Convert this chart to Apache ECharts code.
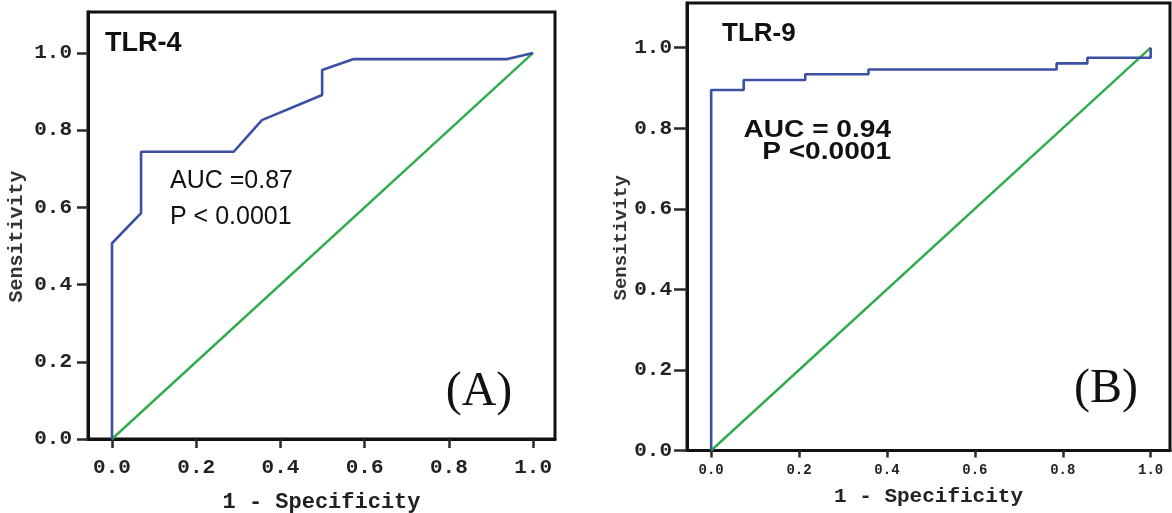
<!DOCTYPE html>
<html>
<head>
<meta charset="utf-8">
<script src="https://cdn.jsdelivr.net/npm/echarts@6/dist/echarts.min.js"></script>
<style>
html,body{margin:0;padding:0;background:#fff;}
#chart{width:1172px;height:513px;}
</style>
</head>
<body>
<div id="chart"></div>
<script>
// ---- data ----
const tickValues = [0, 0.2, 0.4, 0.6, 0.8, 1.0];
const tickLabels = ['0.0', '0.2', '0.4', '0.6', '0.8', '1.0'];

// TLR-4 ROC curve: 1 - specificity, sensitivity
const tlr4Fpr  = [0, 0, 0.069, 0.069, 0.289, 0.356, 0.499, 0.499, 0.574, 0.939, 1.0];
const tlr4Sens = [0, 0.507, 0.585, 0.744, 0.744, 0.826, 0.891, 0.956, 0.984, 0.984, 1.0];

// TLR-9 ROC curve
const tlr9Fpr  = [0, 0, 0.074, 0.074, 0.214, 0.214, 0.358, 0.358, 0.786, 0.786, 0.856, 0.856, 1.0, 1.0];
const tlr9Sens = [0, 0.895, 0.895, 0.920, 0.920, 0.934, 0.934, 0.946, 0.946, 0.961, 0.961, 0.975, 0.975, 1.0];

// reference (chance) line
const refX = [0, 1];
const refY = [0, 1];

const titles = ['TLR-4', 'TLR-9'];
const aucTexts = [['AUC =0.87', 'P < 0.0001'], ['AUC = 0.94', 'P <0.0001']];
const panelTags = ['(A)', '(B)'];
const xName = '1 - Specificity';
const yName = 'Sensitivity';

// ---- build ----
const zip = (a, b) => a.map((v, i) => [v, b[i]]);
const MONO = '"Liberation Mono", "DejaVu Sans Mono", monospace';
const SANS = '"Liberation Sans", Arial, sans-serif';
const SERIF = '"Liberation Serif", "Times New Roman", serif';
const BLUE = '#3b4fa3';
const GREEN = '#2fac4c';
const TICK = '#2a2a2a';
const labelFmt = v => { const i = tickValues.findIndex(t => Math.abs(t - v) < 1e-6); return i >= 0 ? tickLabels[i] : ''; };

const grids = [
  { left: 88, top: 12, width: 467, height: 427, show: true, borderColor: '#111', borderWidth: 3, backgroundColor: 'transparent', containLabel: false, outerBoundsMode: 'none' },
  { left: 687, top: 3, width: 483, height: 447.5, show: true, borderColor: '#111', borderWidth: 3, backgroundColor: 'transparent', containLabel: false, outerBoundsMode: 'none' }
];

function xAxisFor(idx, min, max, fs, tickLen, margin, nameFs, nameGap) {
  return {
    gridIndex: idx, type: 'value', min: min, max: max, position: 'bottom',
    axisLine: { show: true, onZero: false, lineStyle: { color: '#111', width: 3 } },
    splitLine: { show: false },
    axisTick: { show: true, customValues: tickValues, length: tickLen, lineStyle: { color: TICK, width: 2.5 } },
    axisLabel: { show: true, customValues: tickValues, formatter: labelFmt, fontFamily: MONO, fontWeight: 'bold', fontSize: fs, color: '#222', margin: margin },
    name: xName, nameLocation: 'middle', nameGap: nameGap,
    nameTextStyle: { fontFamily: MONO, fontWeight: 'bold', fontSize: nameFs, color: '#222' }
  };
}
function yAxisFor(idx, max, fs, tickLen, margin, nameFs, nameGap) {
  return {
    gridIndex: idx, type: 'value', min: 0, max: max, position: 'left',
    axisLine: { show: true, onZero: false, lineStyle: { color: '#111', width: 3 } },
    splitLine: { show: false },
    axisTick: { show: true, customValues: tickValues, length: tickLen, lineStyle: { color: TICK, width: 2.5 } },
    axisLabel: { show: true, customValues: tickValues, formatter: labelFmt, fontFamily: MONO, fontWeight: 'bold', fontSize: fs, color: '#222', margin: margin },
    name: yName, nameLocation: 'middle', nameGap: nameGap,
    nameTextStyle: { fontFamily: MONO, fontWeight: 'bold', fontSize: nameFs, color: '#333', padding: [0, 22, 0, 0] }
  };
}

const option = {
  animation: false,
  backgroundColor: '#fff',
  grid: grids,
  xAxis: [
    xAxisFor(0, -0.057, 1.052, 21, 9, 18, 22, 52),
    xAxisFor(1, -0.055, 1.044, 14, 7, 13, 21, 36)
  ],
  yAxis: [
    yAxisFor(0, 1.106, 21, 11, 16, 20, 61),
    yAxisFor(1, 1.111, 21, 13, 15, 19, 52)
  ],
  series: [
    { type: 'line', xAxisIndex: 0, yAxisIndex: 0, data: zip(refX, refY), showSymbol: false, lineStyle: { color: GREEN, width: 2.4 }, z: 2 },
    { type: 'line', xAxisIndex: 0, yAxisIndex: 0, data: zip(tlr4Fpr, tlr4Sens), showSymbol: false, lineStyle: { color: BLUE, width: 2.6 }, z: 3 },
    { type: 'line', xAxisIndex: 1, yAxisIndex: 1, data: zip(refX, refY), showSymbol: false, lineStyle: { color: GREEN, width: 2.4 }, z: 2 },
    { type: 'line', xAxisIndex: 1, yAxisIndex: 1, data: zip(tlr9Fpr, tlr9Sens), showSymbol: false, lineStyle: { color: BLUE, width: 2.6 }, z: 3 }
  ],
  graphic: [
    { type: 'text', x: 105, y: 44, style: { text: titles[0], font: 'bold 27px ' + SANS, fill: '#111', textAlign: 'left', textVerticalAlign: 'middle' } },
    { type: 'text', x: 722, y: 34, style: { text: titles[1], font: 'bold 26px ' + SANS, fill: '#111', textAlign: 'left', textVerticalAlign: 'middle' } },
    { type: 'text', x: 170, y: 181, style: { text: aucTexts[0][0], font: '25px ' + SANS, fill: '#111', textAlign: 'left', textVerticalAlign: 'middle' } },
    { type: 'text', x: 170, y: 217, style: { text: aucTexts[0][1], font: '25px ' + SANS, fill: '#111', textAlign: 'left', textVerticalAlign: 'middle' } },
    { type: 'text', x: 891, y: 130, scaleX: 1.17, style: { text: aucTexts[1][0], font: 'bold 24px ' + SANS, fill: '#111', textAlign: 'right', textVerticalAlign: 'middle' } },
    { type: 'text', x: 891, y: 152, scaleX: 1.17, style: { text: aucTexts[1][1], font: 'bold 24px ' + SANS, fill: '#111', textAlign: 'right', textVerticalAlign: 'middle' } },
    { type: 'text', x: 479, y: 392, style: { text: panelTags[0], font: '48px ' + SERIF, fill: '#111', textAlign: 'center', textVerticalAlign: 'middle' } },
    { type: 'text', x: 1106, y: 389, style: { text: panelTags[1], font: '48px ' + SERIF, fill: '#111', textAlign: 'center', textVerticalAlign: 'middle' } }
  ]
};

const chart = echarts.init(document.getElementById('chart'), null, { renderer: 'canvas' });
chart.setOption(option);
</script>
</body>
</html>
